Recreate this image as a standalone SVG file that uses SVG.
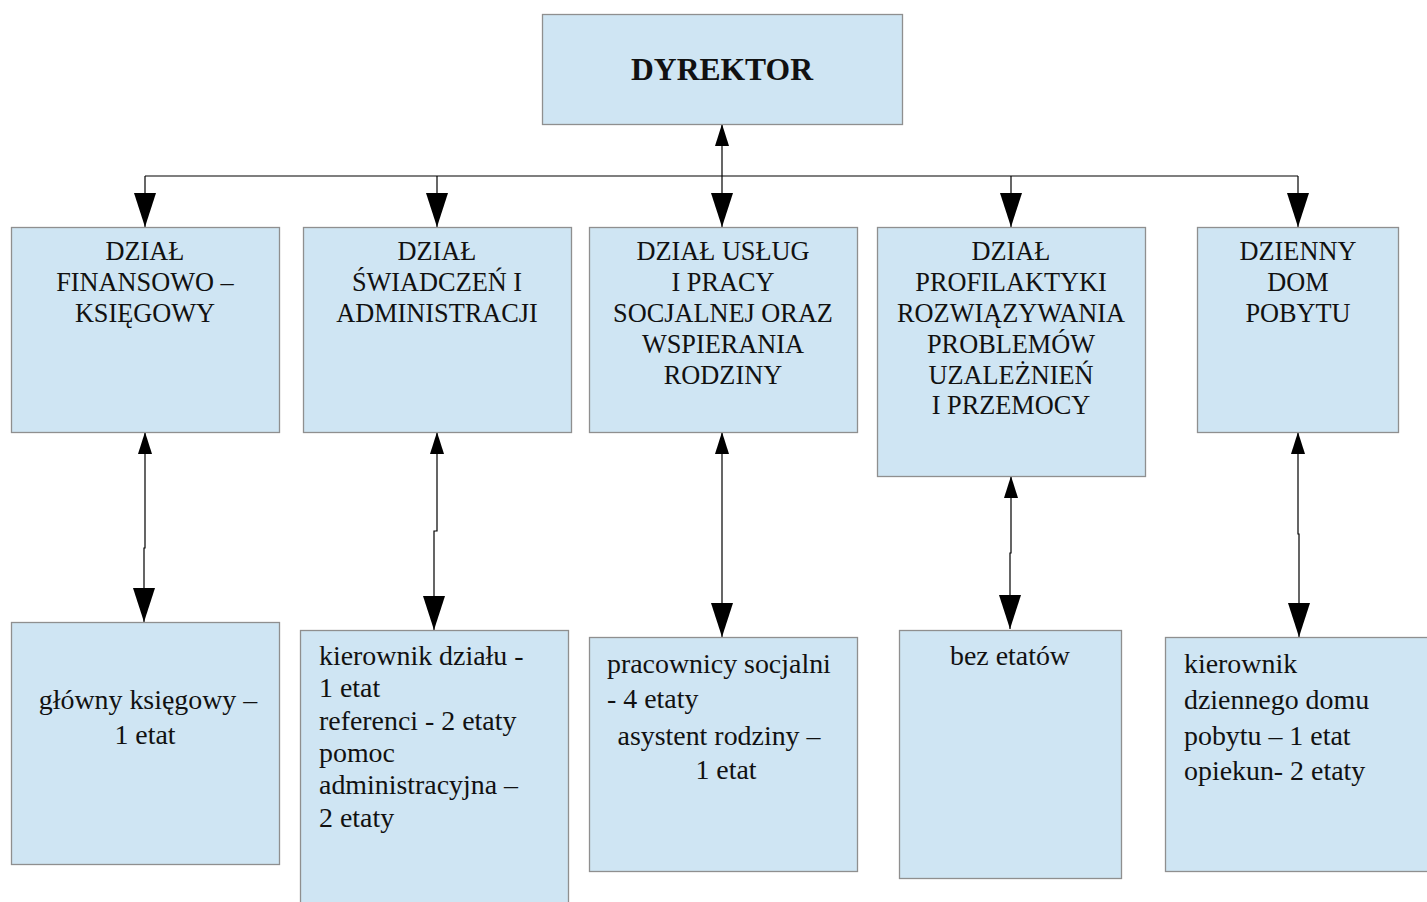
<svg xmlns="http://www.w3.org/2000/svg" width="1427" height="902" viewBox="0 0 1427 902">
<defs>
<style>
.box{fill:#cfe5f3;stroke:#8f8f8f;stroke-width:1.3}
.hd{font-family:"Liberation Serif","Times New Roman",serif;font-size:26.3px;fill:#111;text-anchor:middle}
.tx{font-family:"Liberation Serif","Times New Roman",serif;font-size:27.9px;fill:#111}
.c{text-anchor:middle}
.ln{fill:none;stroke:#000;stroke-width:1.2}
</style>
<marker id="big" markerUnits="userSpaceOnUse" markerWidth="34" markerHeight="22" refX="34" refY="11" orient="auto-start-reverse" viewBox="0 0 34 22">
<path d="M0,0 L34,11 L0,22 z" fill="#000"/>
</marker>
<marker id="small" markerUnits="userSpaceOnUse" markerWidth="22" markerHeight="14" refX="22" refY="7" orient="auto-start-reverse" viewBox="0 0 22 14">
<path d="M0,0 L22,7 L0,14 z" fill="#000"/>
</marker>
</defs>
<rect width="1427" height="902" fill="#fff"/>
<g id="connectors">
<path class="ln" d="M145,176 H1298"/>
<path class="ln" d="M722,176 V124" marker-end="url(#small)"/>
<path class="ln" d="M145,176 V227" marker-end="url(#big)"/>
<path class="ln" d="M437,176 V227" marker-end="url(#big)"/>
<path class="ln" d="M722,176 V227" marker-end="url(#big)"/>
<path class="ln" d="M1011,176 V227" marker-end="url(#big)"/>
<path class="ln" d="M1298,176 V227" marker-end="url(#big)"/>
<path class="ln" d="M145,432 V548 H144 V622" marker-start="url(#small)" marker-end="url(#big)"/>
<path class="ln" d="M437,432 V531 H434 V630" marker-start="url(#small)" marker-end="url(#big)"/>
<path class="ln" d="M722,432 V637" marker-start="url(#small)" marker-end="url(#big)"/>
<path class="ln" d="M1011,476 V553 H1010 V629" marker-start="url(#small)" marker-end="url(#big)"/>
<path class="ln" d="M1298,432 V534 H1299 V637" marker-start="url(#small)" marker-end="url(#big)"/>
</g>
<g id="dyrektor">
<rect class="box" x="542.5" y="14.5" width="360" height="110"/>
<text x="722" y="80" font-family="Liberation Serif,Times New Roman,serif" font-size="31.6px" font-weight="bold" text-anchor="middle" fill="#111">DYREKTOR</text>
</g>
<g id="dzial-fk">
<rect class="box" x="11.5" y="227.5" width="268" height="205"/>
<text class="hd" x="145"><tspan x="145" y="260">DZIAŁ</tspan><tspan x="145" y="291">FINANSOWO –</tspan><tspan x="145" y="322">KSIĘGOWY</tspan></text>
</g>
<g id="dzial-sa">
<rect class="box" x="303.5" y="227.5" width="268" height="205"/>
<text class="hd" x="437"><tspan x="437" y="260">DZIAŁ</tspan><tspan x="437" y="291">ŚWIADCZEŃ I</tspan><tspan x="437" y="322">ADMINISTRACJI</tspan></text>
</g>
<g id="dzial-us">
<rect class="box" x="589.5" y="227.5" width="268" height="205"/>
<text class="hd" x="723"><tspan x="723" y="260">DZIAŁ USŁUG</tspan><tspan x="723" y="291">I PRACY</tspan><tspan x="723" y="322">SOCJALNEJ ORAZ</tspan><tspan x="723" y="353">WSPIERANIA</tspan><tspan x="723" y="384">RODZINY</tspan></text>
</g>
<g id="dzial-pr">
<rect class="box" x="877.5" y="227.5" width="268" height="249"/>
<text class="hd" x="1011"><tspan x="1011" y="260">DZIAŁ</tspan><tspan x="1011" y="291">PROFILAKTYKI</tspan><tspan x="1011" y="322">ROZWIĄZYWANIA</tspan><tspan x="1011" y="353">PROBLEMÓW</tspan><tspan x="1011" y="384">UZALEŻNIEŃ</tspan><tspan x="1011" y="414">I PRZEMOCY</tspan></text>
</g>
<g id="ddp">
<rect class="box" x="1197.5" y="227.5" width="201" height="205"/>
<text class="hd" x="1298"><tspan x="1298" y="260">DZIENNY</tspan><tspan x="1298" y="291">DOM</tspan><tspan x="1298" y="322">POBYTU</tspan></text>
</g>
<g id="etat-fk">
<rect class="box" x="11.5" y="622.5" width="268" height="242"/>
<text class="tx c"><tspan x="148" y="709">główny księgowy –</tspan><tspan x="145" y="744">1 etat</tspan></text>
</g>
<g id="etat-sa">
<rect class="box" x="300.5" y="630.5" width="268" height="290"/>
<text class="tx"><tspan x="319" y="665">kierownik działu -</tspan><tspan x="319" y="697">1 etat</tspan><tspan x="319" y="730">referenci - 2 etaty</tspan><tspan x="319" y="762">pomoc</tspan><tspan x="319" y="794">administracyjna –</tspan><tspan x="319" y="827">2 etaty</tspan></text>
</g>
<g id="etat-us">
<rect class="box" x="589.5" y="637.5" width="268" height="234"/>
<text class="tx"><tspan x="607" y="673">pracownicy socjalni</tspan><tspan x="607" y="708">- 4 etaty</tspan><tspan x="719" y="745" text-anchor="middle">asystent rodziny –</tspan><tspan x="726" y="779" text-anchor="middle">1 etat</tspan></text>
</g>
<g id="etat-pr">
<rect class="box" x="899.5" y="630.5" width="222" height="248"/>
<text class="tx c" x="1010" y="665">bez etatów</text>
</g>
<g id="etat-ddp">
<rect class="box" x="1165.5" y="637.5" width="270" height="234"/>
<text class="tx"><tspan x="1184" y="673">kierownik</tspan><tspan x="1184" y="709">dziennego domu</tspan><tspan x="1184" y="745">pobytu – 1 etat</tspan><tspan x="1184" y="780">opiekun- 2 etaty</tspan></text>
</g>
</svg>
